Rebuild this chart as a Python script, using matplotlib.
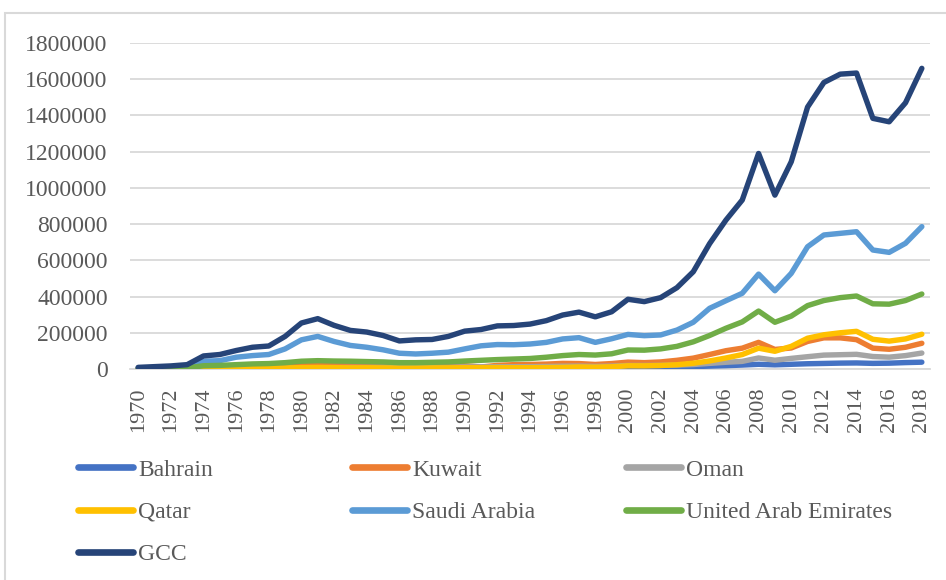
import matplotlib
matplotlib.use("Agg")
import matplotlib.pyplot as plt
from matplotlib.patches import Rectangle
from matplotlib.lines import Line2D
from matplotlib.ticker import FuncFormatter

plt.rcParams['font.family'] = ['Liberation Serif', 'DejaVu Serif']

years = list(range(1970, 2019))

bahrain = [0.2, 0.3, 0.3, 0.5, 1.0, 1.2, 1.6, 2.0, 2.3, 2.6, 3.1, 3.4, 3.6, 3.7, 3.8, 3.7, 3.3, 3.4, 3.6, 3.9, 4.5,
           4.7, 5.0, 5.2, 5.4, 5.7, 5.9, 6.1, 6.0, 6.6, 9.0, 8.9, 9.6, 11.1, 13.2, 16.0, 18.5, 21.7, 26.0, 23.0,
           26.0, 29.0, 30.7, 32.5, 33.4, 31.1, 32.2, 35.4, 37.7]
kuwait = [3, 4, 5, 6, 13, 12, 13, 15, 16, 24, 28, 25, 22, 21, 22, 21, 18, 22, 20, 24, 18,
          11, 20, 24, 25, 27, 31, 30, 25, 30, 38, 35, 39, 48, 60, 80, 101, 115, 147, 108,
          116, 152, 172, 172, 162, 115, 109, 120, 142]
oman = [0.3, 0.3, 0.4, 0.5, 1.6, 2.1, 2.6, 2.8, 2.9, 3.8, 6.0, 7.3, 7.8, 8.2, 8.8, 10.0, 7.3, 7.8, 8.4, 9.4, 11.7,
        11.3, 12.5, 12.5, 12.9, 13.8, 15.3, 15.8, 14.1, 15.7, 19.5, 19.5, 20.1, 21.6, 24.7, 31.0, 37.2, 42.1, 60.9, 48.4,
        58.6, 67.9, 76.7, 78.9, 81.0, 68.9, 65.4, 74.0, 88.0]
qatar = [0.3, 0.4, 0.5, 0.8, 2.4, 2.5, 3.3, 3.6, 4.1, 5.6, 7.8, 8.7, 7.6, 6.5, 6.9, 6.2, 5.1, 5.4, 6.0, 6.5, 7.4,
         7.0, 8.0, 7.2, 7.4, 8.1, 9.1, 11.3, 10.3, 12.4, 17.8, 17.5, 19.4, 23.5, 31.7, 44.5, 60.9, 79.7, 115, 97.8,
         125, 170, 189, 200, 208, 164, 154, 166, 192]
saudi = [5, 7, 10, 15, 43, 46, 65, 74, 80, 111, 161, 180, 152, 130, 120, 106, 87, 83, 87, 93, 111,
         128, 135, 134, 138, 147, 166, 173, 147, 167, 191, 184, 188, 215, 258, 335, 377, 418, 524, 432,
         528, 675, 740, 749, 758, 657, 644, 694, 786]
uae = [1, 2, 3, 6, 18, 20, 24, 28, 30, 35, 43, 46, 44, 43, 41, 39, 35, 35, 37, 39, 44,
       48, 52, 55, 58, 65, 74, 80, 77, 84, 105, 104, 111, 125, 150, 185, 225, 260, 320, 258,
       292, 350, 378, 394, 403, 360, 358, 378, 414]
gcc = [9, 13, 17, 24, 72, 80, 102, 120, 127, 180, 254, 278, 241, 213, 204, 185, 155, 161, 163, 180, 209,
       218, 238, 240, 248, 267, 298, 314, 288, 316, 385, 372, 394, 449, 537, 692, 822, 933, 1190, 960,
       1144, 1446, 1582, 1628, 1634, 1384, 1365, 1470, 1660]

names = ["Bahrain", "Kuwait", "Oman", "Qatar", "Saudi Arabia", "United Arab Emirates", "GCC"]
series = [bahrain, kuwait, oman, qatar, saudi, uae, gcc]
colors = ["#4472C4", "#ED7D31", "#A5A5A5", "#FFC000", "#5B9BD5", "#70AD47", "#264478"]

W, H = 946, 580
fig = plt.figure(figsize=(W / 100, H / 100), dpi=100)

# outer chart frame
fig.patches.append(Rectangle((5 / W, -0.05), 1.1, (H - 13) / H + 0.05, transform=fig.transFigure,
                             fill=False, edgecolor="#d9d9d9", linewidth=1.5, zorder=0))

ax = fig.add_axes([130 / W, (H - 369) / H, 800 / W, 326 / H])
x = list(range(len(years)))
for vals, name, c in zip(series, names, colors):
    ax.plot(x, [v * 1000 for v in vals], color=c, lw=3.9, label=name,
            solid_capstyle="round", solid_joinstyle="round", zorder=3)

ax.set_xlim(-0.5, len(years) - 0.5)
ax.set_ylim(0, 1800000)
ax.set_yticks(range(0, 1800001, 200000))
ax.yaxis.set_major_formatter(FuncFormatter(lambda v, p: "%d" % v))
ax.set_xticks(x[::2])
ax.set_xticklabels([str(y) for y in years[::2]], rotation=90)
ax.grid(axis="y", color="#d9d9d9", lw=1.3, zorder=0)
for s in ["top", "right", "left"]:
    ax.spines[s].set_visible(False)
ax.spines["bottom"].set_color("#d9d9d9")
ax.spines["bottom"].set_linewidth(1.3)
ax.tick_params(axis="y", length=0, pad=16, labelsize=17, labelcolor="#595959")
ax.tick_params(axis="x", length=0, pad=13, labelsize=16, labelcolor="#595959")

# legend in three columns (Excel-like fixed column positions)
cols = [(78, [0, 3, 6]), (352, [1, 4]), (626, [2, 5])]
for xpix, idxs in cols:
    handles = [Line2D([0], [0], color=colors[i], lw=4.8, solid_capstyle="round") for i in idxs]
    fig.legend(handles, [names[i] for i in idxs], loc="upper left",
               bbox_to_anchor=(xpix / W, 1 - 459 / H), bbox_transform=fig.transFigure,
               frameon=False, fontsize=17, handlelength=2.35, handletextpad=0.2,
               labelspacing=0.88, borderpad=0, borderaxespad=0, labelcolor="#595959")

fig.savefig("out.png", dpi=100)
